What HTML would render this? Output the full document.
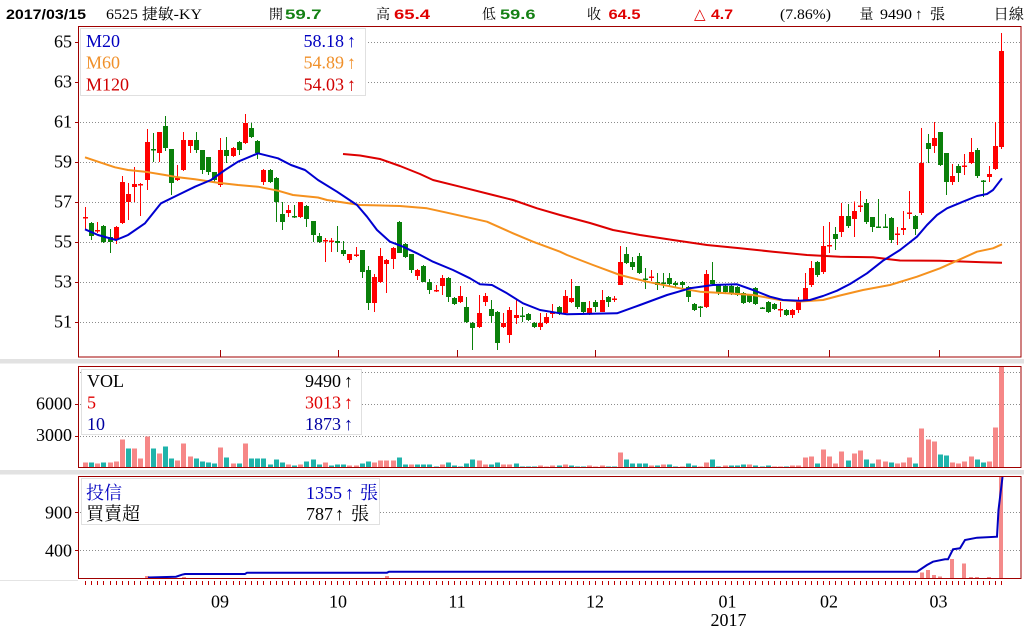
<!DOCTYPE html>
<html><head><meta charset="utf-8"><style>
html,body{margin:0;padding:0;background:#fff;width:1024px;height:630px;overflow:hidden}
svg{position:absolute;left:0;top:0;display:block}
.s{font-family:"Liberation Serif","Noto Serif CJK TC",serif}
.b{font-family:"Liberation Sans","Noto Sans CJK TC",sans-serif;font-weight:bold}
</style></head><body>
<svg width="1024" height="630" xmlns="http://www.w3.org/2000/svg" shape-rendering="crispEdges">
<rect width="1024" height="630" fill="#fff"/>
<rect x="0" y="359" width="1024" height="4.5" fill="#e2e2e2"/>
<rect x="0" y="470" width="1024" height="4.5" fill="#e2e2e2"/>
<rect x="0" y="580" width="78" height="1" fill="#e4e4e4"/>
<g stroke="#8c8c8c" stroke-width="1" stroke-dasharray="1,2">
<line x1="80" y1="42.5" x2="1020" y2="42.5"/><line x1="80" y1="82.5" x2="1020" y2="82.5"/>
<line x1="80" y1="122.5" x2="1020" y2="122.5"/><line x1="80" y1="162.5" x2="1020" y2="162.5"/>
<line x1="80" y1="202.5" x2="1020" y2="202.5"/><line x1="80" y1="242.5" x2="1020" y2="242.5"/>
<line x1="80" y1="282.5" x2="1020" y2="282.5"/><line x1="80" y1="322.5" x2="1020" y2="322.5"/>
<line x1="80" y1="372.5" x2="1020" y2="372.5"/><line x1="80" y1="404.5" x2="1020" y2="404.5"/>
<line x1="80" y1="436.5" x2="1020" y2="436.5"/>
<line x1="80" y1="512.5" x2="1020" y2="512.5"/><line x1="80" y1="550.5" x2="1020" y2="550.5"/>
</g>
<g fill="#a00000">
<rect x="75" y="42" width="4" height="1"/><rect x="75" y="82" width="4" height="1"/><rect x="75" y="122" width="4" height="1"/><rect x="75" y="162" width="4" height="1"/><rect x="75" y="202" width="4" height="1"/><rect x="75" y="242" width="4" height="1"/><rect x="75" y="282" width="4" height="1"/><rect x="75" y="322" width="4" height="1"/>
<rect x="75" y="404" width="4" height="1"/><rect x="75" y="436" width="4" height="1"/>
<rect x="75" y="512" width="4" height="1"/><rect x="75" y="550" width="4" height="1"/>
<rect x="220" y="350" width="1" height="7"/><rect x="338" y="350" width="1" height="7"/><rect x="457" y="350" width="1" height="7"/><rect x="595" y="350" width="1" height="7"/><rect x="728" y="350" width="1" height="7"/><rect x="829" y="350" width="1" height="7"/><rect x="939" y="350" width="1" height="7"/>
</g>
<g id="cd"></g>
<g id="vl"></g>
<g id="tk"></g>
<g fill="none" stroke-width="2" stroke-linejoin="round" shape-rendering="auto">
<polyline stroke="#dd0000" points="343,154 360,155.5 380,159 400,166 420,174 433,180 460,186.7 493,195 513,200 537,208.3 560,215 590,223 613,230 640,235 673,240 707,245 740,248.3 773,251.7 807,255 840,256.7 873,257.3 900,260.5 940,260.7 983,262.3 1002,262.7"/>
<polyline stroke="#f5911e" points="85,157.3 98,161.7 115,167.3 128,170 145,171.7 165,175 178,177.3 195,179.3 218,182.7 238,185 258,186.7 278,190.7 293,195 318,197.5 327,200 360,205 400,206 427,208.3 447,212.7 487,221.7 513,233.3 533,241.7 560,251.7 567,255 593,265 620,275 647,281.7 680,288.3 700,291.7 727,293.3 753,295 780,300 800,301.5 823,300 840,295.5 863,290 890,285 917,276.7 940,268.3 957,260.7 977,251.7 993,248.3 1002,244.3"/>
<polyline stroke="#0000d0" points="85,229.3 98,235 116,240 128,235 145,223.3 161,203.3 178,195 195,186.7 211,180 225,170 238,161.7 258,153.3 278,158.3 291,165 305,170 318,180 337,191.7 357,205 367,216.7 377,230 390,241.7 403,246.7 417,253.3 433,261.7 453,270 470,278.3 480,284.3 492,285 507,293.3 523,303.3 540,310 560,313.3 567,314.3 617,313.3 640,305 667,295 690,288.3 713,285 737,284.3 753,290 770,296.7 783,300 800,300.7 810,300 823,296 837,290.7 850,284 867,273.3 883,260.7 900,250 917,236.7 927,225 937,215 947,208.3 963,201.7 977,196 987,194 993,190 1002,178.3"/>
</g>
<g fill="#f48a8a">
<rect x="145" y="576" width="4" height="2.5"/><rect x="182" y="577" width="4" height="1.5"/><rect x="385" y="576" width="4" height="2.5"/>
<rect x="920" y="572.5" width="4" height="6"/><rect x="926" y="570" width="4" height="8.5"/><rect x="932" y="575" width="4" height="3.5"/><rect x="938" y="576.5" width="4" height="2"/>
<rect x="950" y="559" width="4" height="19.5"/><rect x="962" y="563.5" width="4" height="15"/><rect x="969" y="577" width="4" height="1.5"/><rect x="975" y="577" width="4" height="1.5"/><rect x="987" y="577" width="4" height="1.5"/>
<rect x="999" y="477" width="4" height="101.5"/>
</g>
<polyline fill="none" stroke="#0000c0" stroke-width="2" shape-rendering="auto" points="148,577.5 176,576.7 182,574.7 185,574 245,574 247,572.7 387,572.7 389,571.7 917,571.7 927,565 933,561.7 945,559.3 948,559.3 953,549.3 960,548.3 965,540 977,537.7 997,536.7 998.5,510 1002.5,477"/>
<g fill="none" stroke="#a00000" stroke-width="1">
<rect x="78.5" y="26.5" width="942.5" height="330.5"/>
<rect x="78.5" y="366.5" width="942.5" height="101"/>
<rect x="78.5" y="476.5" width="942.5" height="102"/>
</g>
<rect x="80.5" y="28.5" width="285" height="67" fill="#fff" stroke="#e0e0e0"/>
<rect x="81.5" y="369.5" width="280" height="65" fill="#fff" stroke="#e0e0e0"/>
<rect x="81.5" y="478.5" width="298" height="46" fill="#fff" stroke="#e0e0e0"/>
<g class="s" font-size="18">
<text x="86" y="47" fill="#0000c0">M20</text>
<text x="344" y="47" fill="#0000c0" text-anchor="end">58.18</text><text x="347" y="47" fill="#0000c0">↑</text>
<text x="86" y="68.5" fill="#f0902a">M60</text>
<text x="344" y="68.5" fill="#f0902a" text-anchor="end">54.89</text><text x="347" y="68.5" fill="#f0902a">↑</text>
<text x="86" y="90.5" fill="#d00000">M120</text>
<text x="344" y="90.5" fill="#d00000" text-anchor="end">54.03</text><text x="347" y="90.5" fill="#d00000">↑</text>
<text x="87" y="387" fill="#000">VOL</text>
<text x="341" y="387" fill="#000" text-anchor="end">9490</text><text x="344" y="387" fill="#000">↑</text>
<text x="87" y="408.5" fill="#e00000">5</text>
<text x="341" y="408.5" fill="#e00000" text-anchor="end">3013</text><text x="344" y="408.5" fill="#e00000">↑</text>
<text x="87" y="430" fill="#0000a0">10</text>
<text x="341" y="430" fill="#0000a0" text-anchor="end">1873</text><text x="344" y="430" fill="#0000a0">↑</text>
<text x="86" y="499" fill="#0000c0">投信</text>
<text x="306" y="499" fill="#0000c0">1355</text><text x="345" y="499" fill="#0000c0">↑</text><text x="360" y="499" fill="#0000c0">張</text>
<text x="86" y="520" fill="#000">買賣超</text>
<text x="306" y="520" fill="#000">787</text><text x="335" y="520" fill="#000">↑</text><text x="351" y="520" fill="#000">張</text>
<g text-anchor="end" fill="#000">
<text x="72" y="47.5">65</text><text x="72" y="87.5">63</text><text x="72" y="127.5">61</text><text x="72" y="167.5">59</text>
<text x="72" y="207.5">57</text><text x="72" y="247.5">55</text><text x="72" y="287.5">53</text><text x="72" y="327.5">51</text>
<text x="72" y="409.5">6000</text><text x="72" y="441">3000</text>
<text x="72" y="518.5">900</text><text x="72" y="556.5">400</text>
</g>
<g text-anchor="middle" fill="#000">
<text x="220" y="607.5">09</text><text x="338" y="607.5">10</text><text x="457" y="607.5">11</text><text x="595" y="607.5">12</text>
<text x="727.5" y="607.5">01</text><text x="829" y="607.5">02</text><text x="938.5" y="607.5">03</text>
<text x="728.5" y="626">2017</text>
</g>
</g>
<text class="b" x="6" y="19" font-size="14" textLength="80" lengthAdjust="spacingAndGlyphs" fill="#000">2017/03/15</text>
<text class="s" x="106" y="19" font-size="15" textLength="96" lengthAdjust="spacingAndGlyphs" fill="#000">6525 捷敏-KY</text>
<text class="s" x="269" y="19" font-size="14" fill="#000">開</text>
<text class="b" x="285" y="19" font-size="14" textLength="36.5" lengthAdjust="spacingAndGlyphs" fill="#138013">59.7</text>
<text class="s" x="376" y="19" font-size="14" fill="#000">高</text>
<text class="b" x="394" y="19" font-size="14" textLength="36" lengthAdjust="spacingAndGlyphs" fill="#e00000">65.4</text>
<text class="s" x="482" y="19" font-size="14" fill="#000">低</text>
<text class="b" x="500" y="19" font-size="14" textLength="35.5" lengthAdjust="spacingAndGlyphs" fill="#138013">59.6</text>
<text class="s" x="587" y="19" font-size="14" fill="#000">收</text>
<text class="b" x="608.5" y="19" font-size="14" textLength="32" lengthAdjust="spacingAndGlyphs" fill="#e00000">64.5</text>
<text x="694" y="19" font-size="15" font-family="DejaVu Sans, sans-serif" fill="#e00000">△</text>
<text class="b" x="711" y="19" font-size="14" textLength="22" lengthAdjust="spacingAndGlyphs" fill="#e00000">4.7</text>
<text class="s" x="780" y="19" font-size="15" textLength="51" lengthAdjust="spacingAndGlyphs" fill="#000">(7.86%)</text>
<text class="s" x="859.5" y="19" font-size="14" fill="#000">量</text>
<text class="s" x="880" y="19" font-size="15" textLength="32" lengthAdjust="spacingAndGlyphs" fill="#000">9490</text>
<text class="s" x="915" y="19" font-size="15" fill="#000">↑</text>
<text class="s" x="930" y="19" font-size="15" fill="#000">張</text>
<text class="s" x="993.5" y="19" font-size="15" textLength="30.5" lengthAdjust="spacingAndGlyphs" fill="#000">日線</text>
</svg>
<script>
(function(){
var D=[56.15,56.7,55.55,56.2, 55.9,55.95,55.05,55.25, 55.5,55.95,55.4,55.55, 55.75,55.8,54.9,54.95, 55.2,55.6,54.4,54.95,
55.1,55.75,54.85,55.7, 55.9,58.25,55.85,57.95, 56.95,57.9,56.05,57.35, 57.7,58.7,56.95,57.85, 57.8,57.9,56.25,57.85,
58.05,60.6,57.55,59.95, 59.6,60.4,58.95,59.55, 59.4,60.45,58.95,60.45, 60.75,61.25,59.5,59.65, 59.6,59.6,57.3,57.9,
58.05,58.8,58,58.15, 58.55,60.45,58.5,60.05, 59.75,60.05,59.4,60.05, 60.05,60.45,59.4,59.55, 59.55,59.55,58.35,58.55,
59.2,59.2,58.3,58.45, 58.45,58.45,57.95,58.05, 57.8,60.15,57.7,59.55, 59.55,60.2,58.9,59.25, 59.25,59.7,59.2,59.65,
59.95,60,59.3,59.55, 59.9,61.35,59.85,60.9, 60.65,60.9,60.15,60.2, 60,60.05,59.1,59.4, 57.95,58.6,57.8,58.55,
58.55,58.6,57.9,57.95, 58.15,58.2,55.95,56.95, 56.35,56.95,55.55,55.95, 56.4,56.8,56.2,56.55, 56.25,56.8,56.15,56.2,
56.2,56.95,56.15,56.95, 56.75,56.8,55.7,56.1, 56,56,54.95,55.3, 55.25,55.4,54.9,54.95, 55,55.15,53.95,55.05,
54.98,55.15,54.45,55.02, 55,55.75,54.45,54.9, 54.55,55,54.25,54.35, 54.05,54.35,53.9,54.35, 54.28,54.7,54.2,54.32,
54.55,54.55,53.15,53.45, 53.55,53.75,51.55,51.9, 51.9,53.35,51.45,53.2, 52.95,54.65,52.9,54.25, 53.85,54.1,52.4,54.05,
54.1,54.7,53.6,54.65, 55.95,56,54.4,54.4, 54.85,54.9,54.15,54.2, 54.35,54.35,53.4,53.55, 53.25,53.6,53.05,53.55,
53.75,53.8,52.95,52.95, 52.95,53.1,52.35,52.55, 52.5,52.8,52.45,52.55, 52.75,53.3,52.3,53.15, 53.15,53.2,51.95,52.2,
52.15,52.2,51.8,51.85, 51.95,52.75,51.9,52.25, 51.7,52.2,50.9,50.95, 50.9,50.95,49.55,50.65, 50.7,52.3,50.65,51.4,
51.95,52.4,51.75,52.25, 51.6,52.05,50.9,51.25, 51.45,51.5,49.55,49.9, 50.7,51.4,50.65,50.9, 50.3,51.7,49.9,51.55,
51.15,52.1,50.85,51.3, 51.27,51.7,50.95,51.23, 51.35,51.4,51,51.05, 50.9,50.95,50.65,50.7, 50.7,51.4,50.55,50.9,
50.9,51.4,50.85,51.2, 51.38,51.85,51.15,51.42, 51.7,51.75,51.3,51.4, 51.4,52.55,51.3,52.25, 51.95,53.1,51.9,52.15,
52.75,52.75,51.6,51.7, 51.95,51.95,51.4,51.45, 51.4,52,51.3,51.65, 51.95,52.05,51.45,51.7, 51.45,52.55,51.45,52.05,
52.2,52.25,51.7,51.95, 52.08,52.25,51.95,52.12, 52.8,54.75,52.8,53.95, 54.35,54.7,53.85,53.9, 53.95,54.2,53.55,53.7,
54.25,54.4,53.35,53.4, 53.12,53.65,52.6,53.08, 53.18,53.55,53,53.22, 52.95,53.4,52.55,52.8, 52.92,53.4,52.65,52.88,
53.15,53.4,52.75,52.85, 52.9,53,52.7,52.8, 52.95,53,52.55,52.8, 52.7,52.75,51.95,52.2, 51.85,51.9,51.5,51.55,
51.72,51.75,51.2,51.68, 51.7,53.55,51.65,53.35, 53.05,53.95,52.8,52.85, 52.8,52.85,52.3,52.4, 52.75,52.8,52.4,52.45,
52.75,52.8,52.3,52.35, 52.7,52.75,52.25,52.3, 52.4,52.45,51.85,51.9, 52.3,52.35,51.9,51.95, 52.65,52.7,51.8,51.85,
51.67,51.7,51.6,51.63, 51.95,52,51.4,51.45, 51.85,51.9,51.55,51.6, 51.58,51.95,51.2,51.6, 51.55,51.6,51.25,51.3,
51.3,51.6,51.15,51.55, 51.55,52.2,51.4,51.95, 52,53.4,52,52.65, 52.8,54,52.7,53.65, 53.95,54,53.2,53.3,
53.45,55.75,53.35,54.75, 54.75,55.95,54.4,54.8, 55.35,55.7,54.55,55.1, 55.45,56.9,55.2,56.25, 56.25,56.85,55.65,55.75,
56.1,56.97,55.2,56.5, 56.73,57.5,56.45,56.77, 56.9,57.1,55.85,55.95, 56.2,56.2,55.45,55.7, 55.72,57.1,55.65,55.68,
55.72,56.35,55.65,55.68, 56.15,56.2,54.9,55.05, 55.33,55.7,54.8,55.37, 55.55,56.5,55.3,55.65, 56.38,57.5,56.1,56.42,
56.25,56.3,55.3,55.6, 56.4,60.65,56.3,58.9, 59.9,60.35,58.9,59.6, 59.75,60.95,59.4,60.15, 60.45,60.45,58.75,58.8,
59.4,59.4,57.3,57.95, 57.95,58.85,57.8,58.25, 58.75,58.85,57.95,58.4, 58.73,59.35,58.3,58.77, 58.9,60.15,58.85,59.45,
59.55,59.65,58.15,58.25, 58.02,58.05,57.2,57.98, 58.2,58.75,57.95,58.35, 58.6,60.95,58.55,59.75, 59.7,65.4,59.6,64.5];
var V=[5,5,4,5,5,6,28,19,19,9,31,19,14,21,9,7,24,11,9,6,5,4,20,10,4,4,24,9,9,9,3,8,5,3,2,3,6,8,3,5,2,3,3,2,2,4,6,5,7,7,7,10,3,3,3,3,3,1,3,5,2,1,4,8,7,3,3,5,3,3,4,1,1,1,2,1,
2,2,3,2,1,1,2,1,2,1,1,15,8,4,4,4,2,2,3,3,1,1,4,2,1,5,8,1,2,2,2,3,3,2,1,2,1,1,1,2,2,10,11,4,18,11,4,16,7,14,17,8,4,8,6,5,4,5,10,4,39,28,26,13,12,5,4,6,11,8,5,6,40,101];
var VC="ststssstss"+"ststtssstt"+"ttstststtt"+"tttststtts"+"tttssttsss"+"sttsttttst"+"ttttssttss"+"ttttss"+
"ststttssst"+"tsttttstst"+"tsttssttst"+"ttstttssts"+"ssstssssts"+"sttsstssst"+"sssttsssst"+"tsss";
function Y(p){return 41+(65-p)*20;}
var g1='',g2='',g3='';
for(var i=0;i<150;i++){
 var cx=Math.round(85+i*6.15);
 var o=D[i*4],h=D[i*4+1],l=D[i*4+2],c=D[i*4+3];
 var col=c>=o?'#ff0000':'#0a800a';
 var yh=Y(h),yl=Y(l),yt=Y(Math.max(o,c)),yb=Y(Math.min(o,c));
 g1+='<rect x="'+cx+'" y="'+yh.toFixed(1)+'" width="1" height="'+Math.max(1,yl-yh).toFixed(1)+'" fill="'+col+'"/>';
 g1+='<rect x="'+(cx-2)+'" y="'+yt.toFixed(1)+'" width="5" height="'+Math.max(1.5,yb-yt).toFixed(1)+'" fill="'+col+'"/>';
 var vh=V[i];
 g2+='<rect x="'+(cx-2)+'" y="'+(467.5-vh)+'" width="5" height="'+vh+'" fill="'+(VC.charAt(i)=='s'?'#f68787':'#1fb3ab')+'"/>';
 g3+='<rect x="'+cx+'" y="581" width="1" height="4" fill="#c00000"/>';
}
document.getElementById('cd').innerHTML=g1;
document.getElementById('vl').innerHTML=g2;
document.getElementById('tk').innerHTML=g3;
})();
</script>
</body></html>
